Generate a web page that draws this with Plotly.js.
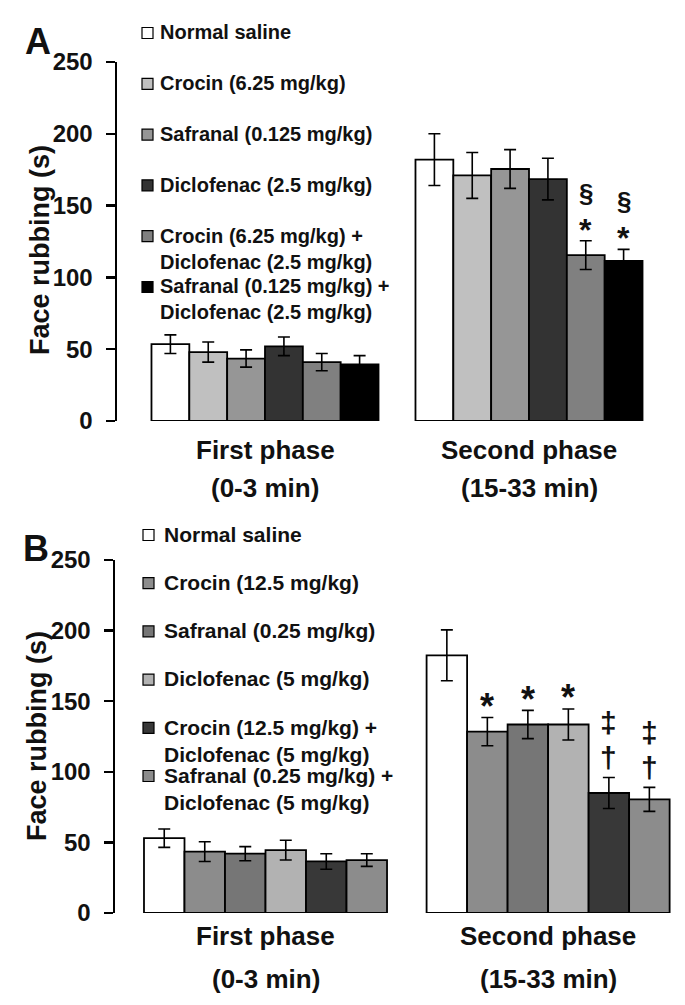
<!DOCTYPE html>
<html>
<head>
<meta charset="utf-8">
<script src="https://cdn.plot.ly/plotly-3.0.1.min.js"></script>
<style>
  html, body { margin: 0; padding: 0; background: #ffffff; }
  #chart { width: 685px; height: 1005px; }
</style>
</head>
<body>
<div id="chart"></div>
<script>
// ---------- data ----------
const phaseLabels = ['First phase', 'Second phase'];
const phaseTimes = ['(0-3 min)', '(15-33 min)'];
const yTicks = [0, 50, 100, 150, 200, 250];

// Panel A
const legendA = ['Normal saline', 'Crocin (6.25 mg/kg)', 'Safranal (0.125 mg/kg)', 'Diclofenac (2.5 mg/kg)',
  'Crocin (6.25 mg/kg) +<br>Diclofenac (2.5 mg/kg)', 'Safranal (0.125 mg/kg) +<br>Diclofenac (2.5 mg/kg)'];
const colorsA = ['#ffffff', '#c0c0c0', '#969696', '#333333', '#808080', '#000000'];
const firstA = [53.5, 48, 43.5, 52, 41, 39.5];
const firstErrA = [6.5, 7, 6, 6.5, 6, 6];
const secondA = [182, 171, 175.5, 168.5, 115.5, 111.5];
const secondErrA = [18, 16, 13.5, 14.5, 10, 8];
const sigA = [[], [], [], [], ['*', '§'], ['*', '§']];

// Panel B
const legendB = ['Normal saline', 'Crocin (12.5 mg/kg)', 'Safranal (0.25 mg/kg)', 'Diclofenac (5 mg/kg)',
  'Crocin (12.5 mg/kg) +<br>Diclofenac (5 mg/kg)', 'Safranal (0.25 mg/kg) +<br>Diclofenac (5 mg/kg)'];
const colorsB = ['#ffffff', '#8c8c8c', '#767676', '#b2b2b2', '#383838', '#8c8c8c'];
const firstB = [53, 43.5, 42, 44.5, 36.5, 37.5];
const firstErrB = [6.5, 7, 5, 7, 5.5, 4.5];
const secondB = [182.5, 128.5, 133.5, 133.5, 85, 80.5];
const secondErrB = [18, 10, 10, 11, 11, 8.5];
const sigB = [[], ['*'], ['*'], ['*'], ['†', '‡'], ['†', '‡']];

// ---------- layout helpers ----------
const W = 685, H = 1005;
const px = v => v / W;
const py = v => 1 - v / H;
const FONT = 'Liberation Sans, Arial, Helvetica, sans-serif';
const BARGAP = 0.14;

const panels = [
  { letter: 'A', xa: 'x', ya: 'y', names: legendA, colors: colorsA,
    first: firstA, firstErr: firstErrA, second: secondA, secondErr: secondErrA, sig: sigA,
    xDomain: [117 / W, 660 / W], xRange: [-0.5606, 1.4962], yDomain: [py(421), py(62)],
    legX: 142, txtX: 158, legY0: 33, legDy: 50.8, legFont: 20,
    letterX: 38, letterY: 42, titleX: 40, titleY: 250, catY: [450, 488], sigStep: 28, sigFont: 26 },
  { letter: 'B', xa: 'x2', ya: 'y2', names: legendB, colors: colorsB,
    first: firstB, firstErr: firstErrB, second: secondB, secondErr: secondErrB, sig: sigB,
    xDomain: [115 / W, 1], xRange: [-0.5326, 1.4844], yDomain: [py(913), py(560)],
    legX: 143, txtX: 162, legY0: 535, legDy: 48.2, legFont: 21,
    letterX: 36, letterY: 548, titleX: 37, titleY: 736, catY: [936, 979], sigStep: 35, sigFont: 30 }
];

const traces = [];
const shapes = [];
const annotations = [];
const layout = {
  width: W, height: H,
  margin: { l: 0, r: 0, t: 0, b: 0 },
  paper_bgcolor: '#ffffff', plot_bgcolor: 'rgba(0,0,0,0)',
  barmode: 'group', bargap: BARGAP, bargroupgap: 0,
  showlegend: false,
  font: { family: FONT, color: '#000000' },
  shapes: shapes, annotations: annotations
};

const glyphAdjust = { '*': -9, '§': 0, '†': 0, '‡': 0 };

panels.forEach((p, pi) => {
  const n = p.names.length;
  const w = 1 - BARGAP;
  p.names.forEach((name, i) => {
    traces.push({
      type: 'bar', name: name.replace('<br>', ' '),
      x: [0, 1], y: [p.first[i], p.second[i]],
      xaxis: p.xa, yaxis: p.ya,
      marker: { color: p.colors[i], line: { color: '#000000', width: 1.8 } },
      error_y: { type: 'data', array: [p.firstErr[i], p.secondErr[i]], visible: true,
                 color: '#000000', thickness: 1.6, width: 6 },
      hoverinfo: 'skip'
    });
    // legend swatch + text
    const cy = p.legY0 + i * p.legDy;
    shapes.push({ type: 'rect', xref: 'paper', yref: 'paper',
      x0: px(p.legX), x1: px(p.legX + 11), y0: py(cy + 5.5), y1: py(cy - 5.5),
      fillcolor: p.colors[i], line: { color: '#000000', width: 1.2 } });
    annotations.push({ xref: 'paper', yref: 'paper', x: px(p.txtX), y: py(cy - p.legFont * 0.68),
      xanchor: 'left', yanchor: 'top', align: 'left', showarrow: false, text: name,
      font: { family: FONT, size: p.legFont, weight: 'bold', color: '#111111' } });
    // significance marks above second-phase bars
    const xc = 1 - w / 2 + (i + 0.5) * w / n;
    p.sig[i].forEach((g, k) => {
      annotations.push({ xref: p.xa, yref: p.ya, x: xc, y: p.second[i] + p.secondErr[i],
        yshift: 20 + k * p.sigStep + glyphAdjust[g], xanchor: 'center', yanchor: 'middle',
        showarrow: false, text: g,
        font: { family: FONT, size: (g === '*' ? p.sigFont + 6 : p.sigFont), weight: 'bold', color: '#111111' } });
    });
  });

  // category labels under each group
  phaseLabels.forEach((lab, gi) => {
    annotations.push({ xref: p.xa, yref: 'paper', x: gi, y: py(p.catY[0]), xanchor: 'center', yanchor: 'middle',
      showarrow: false, text: lab, font: { family: FONT, size: 26, weight: 'bold', color: '#111111' } });
    annotations.push({ xref: p.xa, yref: 'paper', x: gi, y: py(p.catY[1]), xanchor: 'center', yanchor: 'middle',
      showarrow: false, text: phaseTimes[gi], font: { family: FONT, size: 26, weight: 'bold', color: '#111111' } });
  });

  // panel letter and y title
  annotations.push({ xref: 'paper', yref: 'paper', x: px(p.letterX), y: py(p.letterY), xanchor: 'center', yanchor: 'middle',
    showarrow: false, text: p.letter, font: { family: FONT, size: 36, weight: 'bold', color: '#111111' } });
  annotations.push({ xref: 'paper', yref: 'paper', x: px(p.titleX), y: py(p.titleY), xanchor: 'center', yanchor: 'middle',
    textangle: -90, showarrow: false, text: 'Face rubbing (s)',
    font: { family: FONT, size: 27, weight: 'bold', color: '#111111' } });

  const xKey = pi === 0 ? 'xaxis' : 'xaxis2';
  const yKey = pi === 0 ? 'yaxis' : 'yaxis2';
  layout[xKey] = { domain: p.xDomain, range: p.xRange, anchor: p.ya, type: 'linear',
    showline: false, showgrid: false, zeroline: false, showticklabels: false, ticks: '', fixedrange: true };
  layout[yKey] = { domain: p.yDomain, range: [0, 250], anchor: p.xa,
    showline: true, linecolor: '#000000', linewidth: 2.5, mirror: false,
    ticks: 'outside', ticklen: 9, tickwidth: 2.5, tickcolor: '#000000',
    tickvals: yTicks, ticktext: yTicks.map(String), ticklabelstandoff: 8,
    tickfont: { family: FONT, size: 24, weight: 'bold', color: '#111111' },
    showgrid: false, zeroline: false, fixedrange: true };
});

Plotly.newPlot('chart', traces, layout, { displayModeBar: false, staticPlot: true });
</script>
</body>
</html>
